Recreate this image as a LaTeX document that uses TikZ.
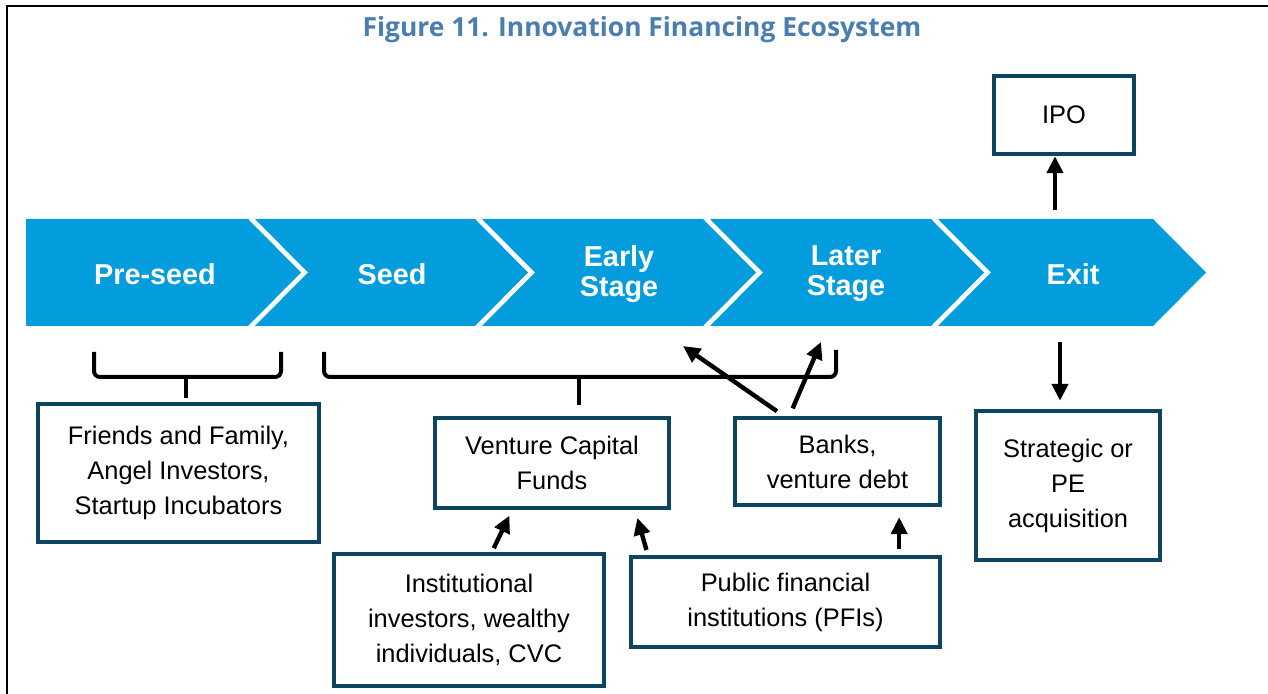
\documentclass[tikz,border=0pt]{standalone}
\usepackage{fontspec}
\setmainfont{Liberation Sans}
\newfontfamily\titolofont{Open Sans}
\usetikzlibrary{arrows.meta}
\definecolor{azzurro}{HTML}{039CDD}
\definecolor{bordo}{HTML}{0F4461}
\definecolor{titolo}{HTML}{4A7EB0}

\begin{document}
\begin{tikzpicture}[x=0.5pt, y=-0.5pt,
             box/.style = {draw=bordo, line width=2.2pt, align=center, inner sep=0pt,
                           font=\fontsize{12.7}{17.5}\selectfont},
             fase/.style = {text=white, align=center, font=\fontsize{14.4}{15}\selectfont\bfseries},
             freccia/.style = {-{Triangle[length=8.5pt, width=8pt]}, line width=2.2pt},
             graffa/.style = {line width=2pt, rounded corners=3pt}]
            \useasboundingbox (0,0) rectangle (1268,694);
            % Cornice e titolo
            \draw[line width=1pt] (7,694) -- (7,6.5) -- (1268,6.5);
            \node[text=titolo, font=\titolofont\fontsize{13.2}{15}\selectfont\bfseries] (0) at (642,30)
                {Figure 11. Innovation Financing Ecosystem};

            % Frecce delle fasi
            \foreach \x/\r/\n in {26/248/0, 255/475/53, 482/703/53, 710/931/53, 938/1153/53}
                \fill[azzurro] (\x,219) -- (\r,219) -- (\r+53,272.5) -- (\r,326) -- (\x,326) -- (\x+\n,272.5) -- cycle;
            \foreach \x/\t [count=\i] in {155/Pre-seed, 392/Seed, 619/{Early\\Stage}, 846/{Later\\Stage}, 1073/Exit}
                \node[fase] (\i) at (\x,274) {\t};

            % Riquadri
            \node[box, minimum width=140.5pt, minimum height=69pt] (6) at (178.5,473) {Friends and Family,\\Angel Investors,\\Startup Incubators};
            \node[box, minimum width=117pt, minimum height=45pt] (7) at (552,463) {Venture Capital\\Funds};
            \node[box, minimum width=102.5pt, minimum height=43.5pt] (8) at (837.5,461.5) {Banks,\\venture debt};
            \node[box, minimum width=70pt, minimum height=39pt] (9) at (1064,115) {IPO};
            \node[box, minimum width=92pt, minimum height=74.5pt] (10) at (1068,485.5) {Strategic or\\PE\\acquisition};
            \node[box, minimum width=135pt, minimum height=66pt] (11) at (469,620) {Institutional\\investors, wealthy\\individuals, CVC};
            \node[box, minimum width=154.5pt, minimum height=45pt] (12) at (785.5,602) {Public financial\\institutions (PFIs)};

            % Parentesi
            \draw[graffa] (94,352) -- (94,377) -- (281,377) -- (281,352);
            \draw[graffa] (186,377) -- (186,398);
            \draw[graffa] (324,352) -- (324,377) -- (836,377) -- (836,350);
            \draw[graffa] (579,377) -- (579,405);

            % Archi
            \coordinate (e1) at (683,346);
            \coordinate (e2) at (821,342);
            \coordinate (u1) at (1055,210);
            \coordinate (u2) at (1060,342);
            \draw[freccia] (u1) -- (u1 |- 9.south);
            \draw[freccia, shorten >=4pt] (u2) -- (u2 |- 10.north);
            \draw[freccia, shorten <=4pt] ([xshift=-27pt]8.north) -- (e1);
            \draw[freccia, shorten <=4pt] ([xshift=-24pt]8.north) -- (e2);
            \draw[freccia, shorten <=2pt, shorten >=3pt] ([xshift=11.5pt]11.north) -- ([xshift=-20pt]7.south);
            \draw[freccia, shorten <=2.5pt, shorten >=4pt] ([xshift=9.5pt]12.north west) -- ([xshift=-18pt]7.south east);
            \draw[freccia, shorten <=3pt, shorten >=5pt] ([xshift=-21.5pt]12.north east) -- ([xshift=-21.5pt]8.south east);
        \end{tikzpicture}
\end{document}
